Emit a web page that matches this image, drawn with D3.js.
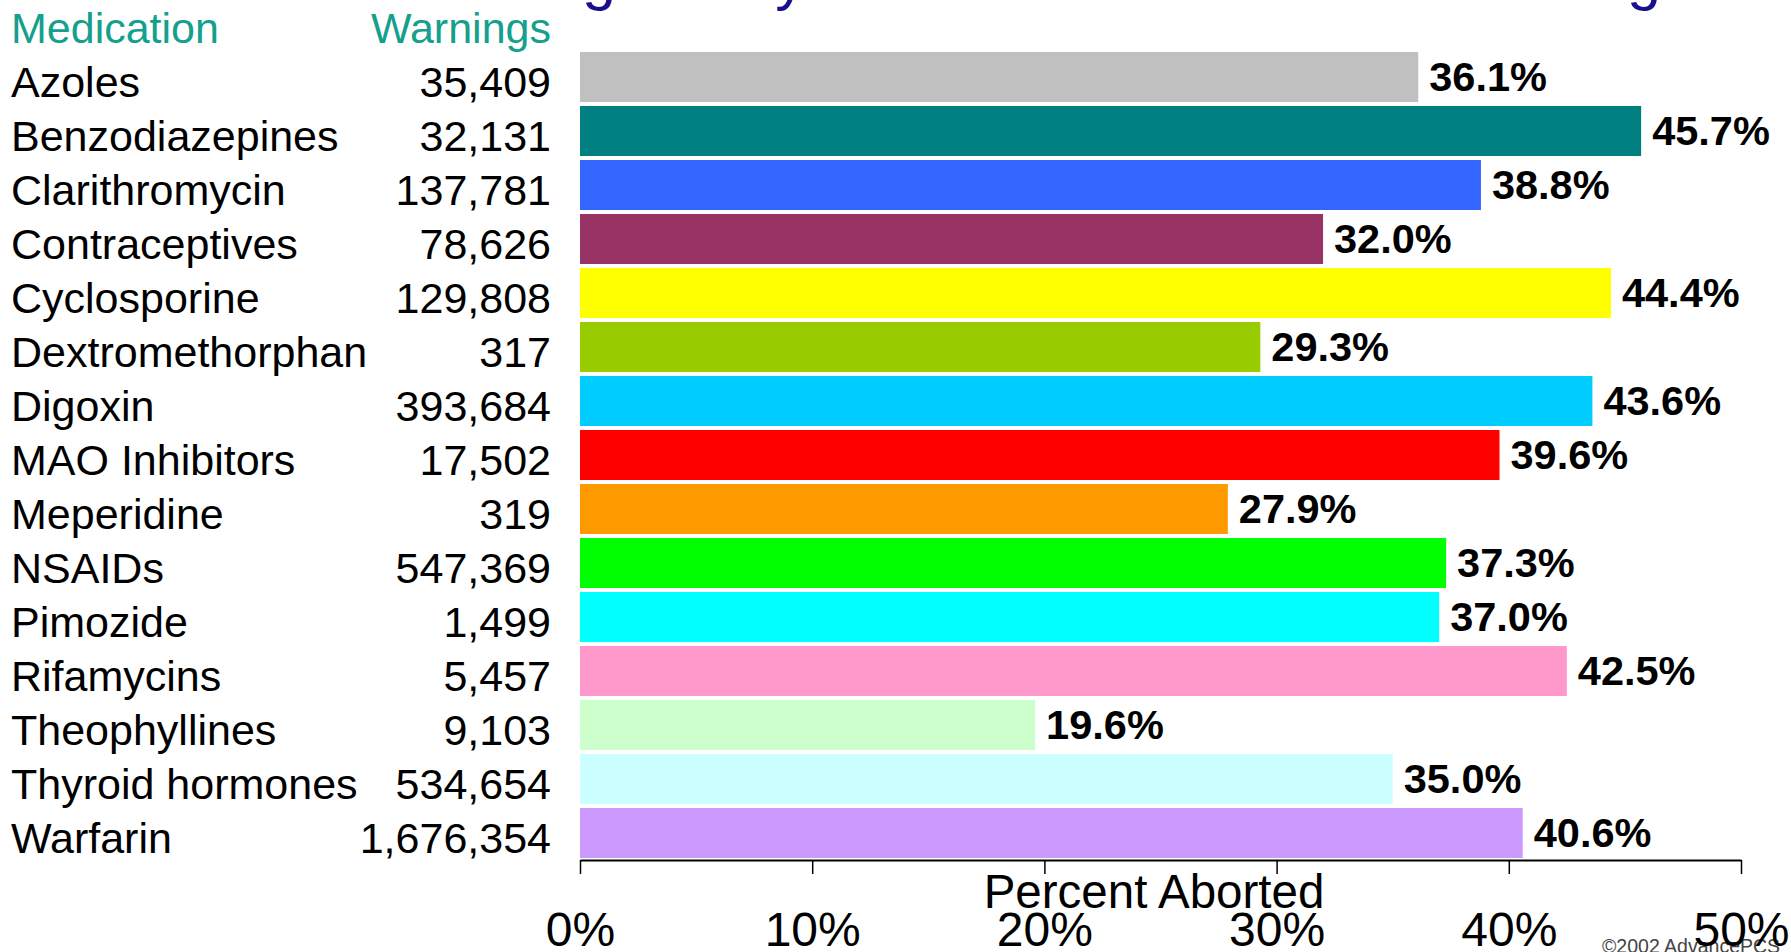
<!DOCTYPE html>
<html>
<head>
<meta charset="utf-8">
<script src="https://cdn.jsdelivr.net/npm/d3@7"></script>
<style>
  body { margin: 0; background: #fff; }
  svg { display: block; font-family: "Liberation Sans", Arial, sans-serif; }
</style>
</head>
<body>
<script>
// data
var medications = ["Azoles", "Benzodiazepines", "Clarithromycin", "Contraceptives", "Cyclosporine",
    "Dextromethorphan", "Digoxin", "MAO Inhibitors", "Meperidine", "NSAIDs", "Pimozide",
    "Rifamycins", "Theophyllines", "Thyroid hormones", "Warfarin"];
var warnings = [35409, 32131, 137781, 78626, 129808, 317, 393684, 17502, 319, 547369, 1499,
    5457, 9103, 534654, 1676354];
var percentAborted = [36.1, 45.7, 38.8, 32.0, 44.4, 29.3, 43.6, 39.6, 27.9, 37.3, 37.0,
    42.5, 19.6, 35.0, 40.6];
var barColors = ["#c0c0c0", "#008080", "#3366ff", "#993366", "#ffff00", "#99cc00", "#00ccff",
    "#ff0000", "#ff9900", "#00ff00", "#00ffff", "#ff99cc", "#ccffcc", "#ccffff", "#cc99ff"];
var xTicks = [0, 10, 20, 30, 40, 50];

var width = 1791, height = 952;

var rows = medications.map(function(m, i) {
    return {key: m, warnings: warnings[i], value: percentAborted[i], color: barColors[i]};
});

var svg = d3.select("body").append("svg")
    .attr("width", width)
    .attr("height", height);

var xScale = d3.scaleLinear().domain([0, 50]).range([580, 1741]);
var yScale = d3.scaleBand().domain(medications).range([50, 860])
    .paddingInner(0.074).paddingOuter(0.037);
var fmt = d3.format(",");

// title, mostly cut off by the top edge (only descenders show)
var title = svg.append("text")
    .attr("fill", "#1a0f8c")
    .attr("font-size", 64)
    .attr("y", 0)
    .text("Drug Safety Medication Interaction Warnings");
var t = title.node();
var str = t.textContent;
var g1 = str.indexOf("g"), g2 = str.lastIndexOf("g");
var span = t.getStartPositionOfChar(g2).x - t.getStartPositionOfChar(g1).x;
var fs = 64 * (1627 - 582) / span;
title.attr("font-size", fs).attr("y", 11 - 0.21 * fs);
title.attr("x", 582 - t.getStartPositionOfChar(g1).x);

// table header
svg.append("text")
    .attr("x", 11).attr("y", 43)
    .attr("font-size", 43).attr("fill", "#14a08c")
    .text("Medication");
svg.append("text")
    .attr("x", 551).attr("y", 43)
    .attr("font-size", 43).attr("fill", "#14a08c")
    .attr("text-anchor", "end")
    .text("Warnings");

// table rows
svg.selectAll(".medLabel")
    .data(rows)
    .enter()
    .append("text")
    .attr("class", "medLabel")
    .attr("x", 11)
    .attr("y", function(d) { return yScale(d.key) + yScale.bandwidth() / 2 + 20; })
    .attr("font-size", 43)
    .text(function(d) { return d.key; });

svg.selectAll(".warnLabel")
    .data(rows)
    .enter()
    .append("text")
    .attr("class", "warnLabel")
    .attr("x", 551)
    .attr("y", function(d) { return yScale(d.key) + yScale.bandwidth() / 2 + 20; })
    .attr("font-size", 43)
    .attr("text-anchor", "end")
    .text(function(d) { return fmt(d.warnings); });

// bars
svg.selectAll(".barRect")
    .data(rows)
    .enter()
    .append("rect")
    .attr("class", "barRect")
    .attr("x", xScale(0))
    .attr("y", function(d) { return yScale(d.key); })
    .attr("width", function(d) { return xScale(d.value) - xScale(0); })
    .attr("height", yScale.bandwidth())
    .attr("fill", function(d) { return d.color; });

// value labels
svg.selectAll(".valLabel")
    .data(rows)
    .enter()
    .append("text")
    .attr("class", "valLabel")
    .attr("x", function(d) { return xScale(d.value) + 11; })
    .attr("y", function(d) { return yScale(d.key) + yScale.bandwidth() / 2 + 14; })
    .attr("font-size", 41.5)
    .attr("font-weight", "bold")
    .text(function(d) { return d.value.toFixed(1) + "%"; });

// copyright sits under the 50% label
svg.append("text")
    .attr("x", 1602).attr("y", 953)
    .attr("font-size", 19.5).attr("fill", "#444")
    .text("\u00a92002 AdvancePCS");

// x axis
var xAxis = d3.axisBottom(xScale)
    .tickValues(xTicks)
    .tickSize(14)
    .tickSizeOuter(0)
    .tickPadding(38)
    .tickFormat(function(d) { return d + "%"; });

var gx = svg.append("g")
    .attr("transform", "translate(0,860)")
    .call(xAxis);
gx.select(".domain").attr("stroke", "#000").attr("stroke-width", 2);
gx.selectAll(".tick line").attr("stroke", "#000").attr("stroke-width", 1.5);
gx.selectAll(".tick text")
    .attr("font-size", 48)
    .attr("font-family", "'Liberation Sans', Arial, sans-serif")
    .attr("fill", "#000");

svg.append("text")
    .attr("x", 1154).attr("y", 908)
    .attr("font-size", 47.5)
    .attr("text-anchor", "middle")
    .text("Percent Aborted");
</script>
</body>
</html>
